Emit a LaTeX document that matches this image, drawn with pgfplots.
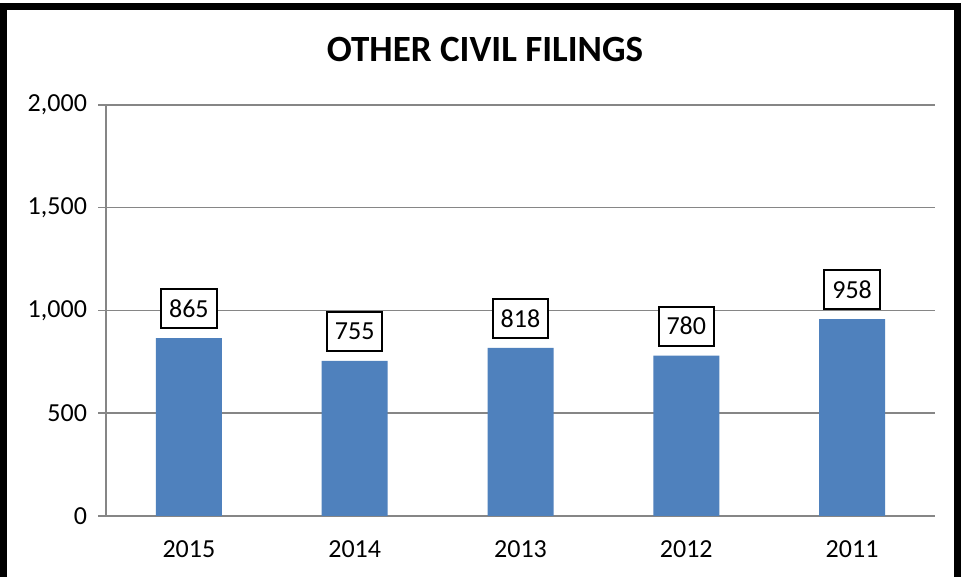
\documentclass[border=0pt]{standalone}
\usepackage{pgfplots}
\pgfplotsset{compat=1.18}
\usepackage{fontspec}
\setmainfont{Carlito}
\definecolor{barblue}{HTML}{4F81BD}
\definecolor{gridgray}{HTML}{868686}
\begin{document}
\begin{tikzpicture}[x=0.5pt,y=0.5pt]
\useasboundingbox (0,0) rectangle (964,577);
\fill[white] (0,0) rectangle (964,577);
\draw[line width=3.5pt] (3.5,-5) -- (3.5,570) -- (957,570) -- (957,-5);
\node[font=\bfseries\fontsize{18.5}{22}\selectfont, inner sep=0pt] at (485,527) {OTHER CIVIL FILINGS};
\begin{axis}[
  at={(53pt,30.5pt)}, anchor=south west,
  scale only axis, width=414.5pt, height=205.5pt,
  xmin=-0.5, xmax=4.5, ymin=0, ymax=2000,
  xtick={0,...,4}, xticklabels={2015,2014,2013,2012,2011},
  minor xtick={-0.5,0.5,...,4.5},
  ytick={0,500,...,2000},
  /pgf/number format/assume math mode=true,
  /pgf/number format/1000 sep={,},
  axis x line*=bottom, axis y line*=left,
  axis line style={gridgray, line width=0.75pt, -},
  ymajorgrids, grid style={gridgray, line width=0.75pt},
  tick align=outside,
  xtick style={draw=none},
  minor tick length=4pt, major tick length=4pt,
  minor x tick style={gridgray, line width=0.75pt},
  ytick style={gridgray, line width=0.75pt},
  ticklabel style={font=\fontsize{13}{15}\selectfont, text=black},
  xticklabel style={yshift=-5pt},
  yticklabel style={xshift=-2pt},
  ybar, bar width=33pt,
  nodes near coords,
  every node near coord/.append style={draw=black, line width=1pt, fill=white,
    anchor=south, yshift=4.5pt, inner xsep=4pt, minimum height=19.5pt,
    font=\fontsize{13}{15}\selectfont},
]
\addplot[fill=barblue, draw=none] coordinates {(0,865) (1,755) (2,818) (3,780) (4,958)};
\end{axis}
\end{tikzpicture}
\end{document}
